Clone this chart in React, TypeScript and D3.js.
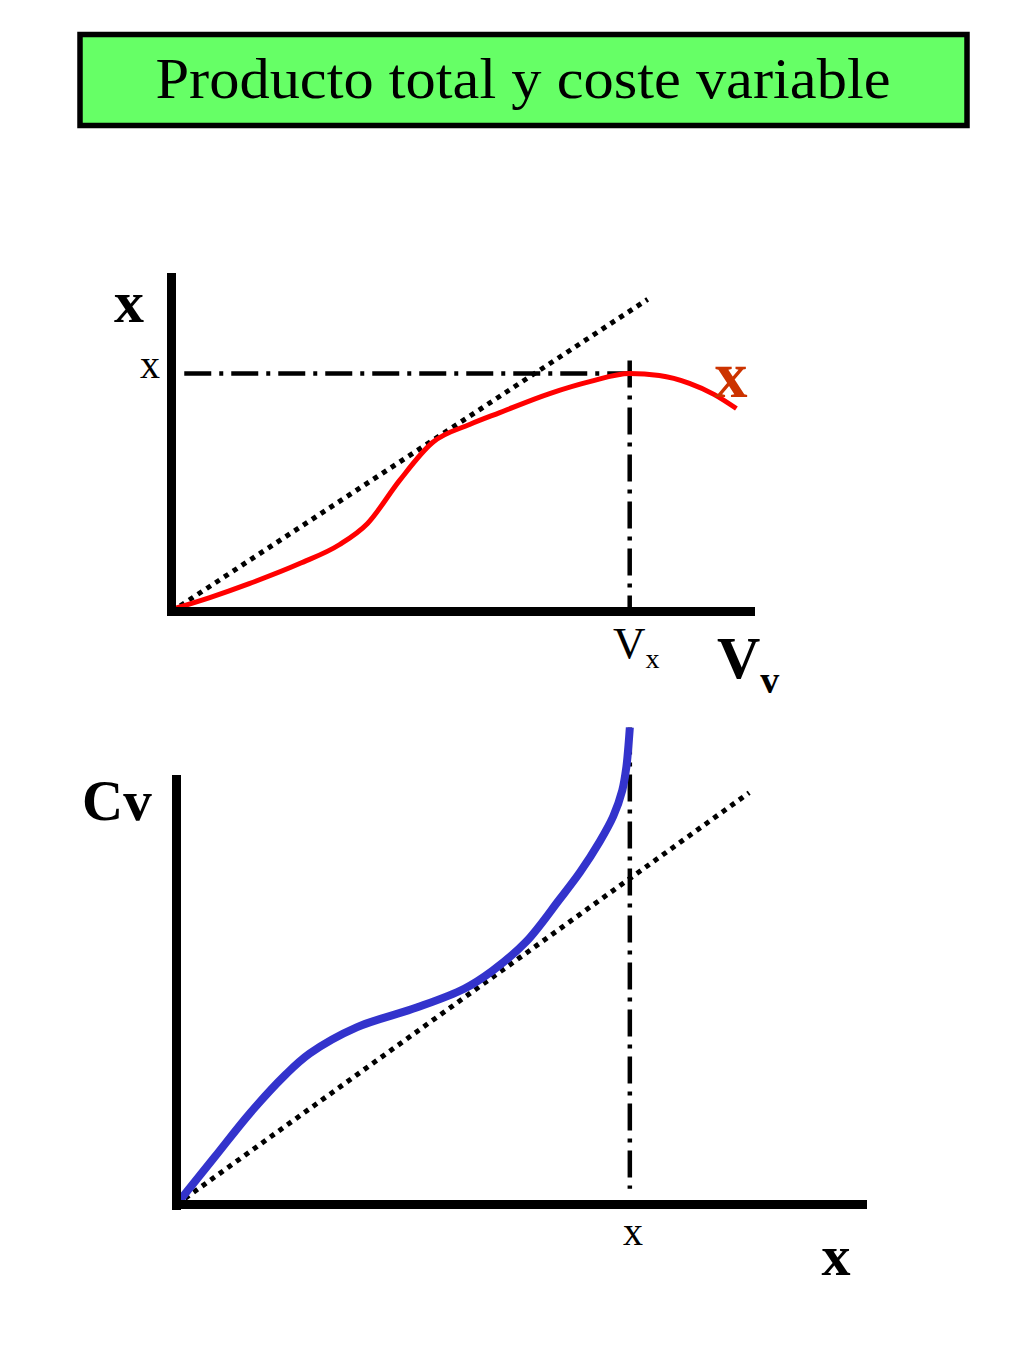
import * as d3 from "d3";

// top chart: total product against variable input (units 0..100 on both axes)
const productCurve: [number, number][] = [
  [0, 0.6], [6.6, 4.1], [13.4, 8.2], [22.1, 14.1], [29.0, 19.7], [33.8, 25.9],
  [39.3, 38.5], [45.0, 49.7], [51.4, 55.0], [56.6, 58.5], [65.2, 64.1],
  [72.1, 67.6], [79.0, 70.0], [84.1, 69.4], [89.3, 67.1], [93.6, 63.8], [97.4, 59.7],
];
const productRay: [number, number][] = [[0, 0], [82.1, 91.8]];
const productMax = { v: 79.0, x: 70.0, top: 73.8, left: 2.2 };

// bottom chart: variable cost against output
const costCurve: [number, number][] = [
  [0, 0], [5.5, 11.0], [10.6, 21.2], [15.7, 30.1], [19.3, 35.2], [26.1, 41.3],
  [34.8, 45.9], [41.7, 50.3], [45.8, 54.5], [50.7, 61.3], [55.5, 71.1],
  [58.5, 77.5], [61.3, 84.5], [63.3, 90.5], [64.6, 96.5], [65.2, 102.0],
  [65.5, 107.0], [65.7, 111.2],
];
const costRay: [number, number][] = [[0, 0], [83.0, 96.0]];
const costMax = { x: 65.7, top: 111.2, bottom: 3.7 };

const TITLE = "Producto total y coste variable";
const SERIF = "'Liberation Serif', Tinos, 'Times New Roman', Times, serif";

const DOTTED = "5,5.5";
const DASHDOT = "27,8,4,8";

export default function App() {
  const W = 1024;
  const H = 1365;

  // top panel scales
  const x1 = d3.scaleLinear().domain([0, 100]).range([171.5, 751.5]);
  const y1 = d3.scaleLinear().domain([0, 100]).range([611.5, 271.5]);
  // bottom panel scales
  const x2 = d3.scaleLinear().domain([0, 100]).range([176.5, 866.5]);
  const y2 = d3.scaleLinear().domain([0, 100]).range([1204.5, 775.5]);

  const line1 = d3.line<[number, number]>()
    .x((d) => x1(d[0])).y((d) => y1(d[1]))
    .curve(d3.curveMonotoneX);
  const line2 = d3.line<[number, number]>()
    .x((d) => x2(d[0])).y((d) => y2(d[1]))
    .curve(d3.curveCatmullRom.alpha(0.5));
  const straight1 = d3.line<[number, number]>().x((d) => x1(d[0])).y((d) => y1(d[1]));
  const straight2 = d3.line<[number, number]>().x((d) => x2(d[0])).y((d) => y2(d[1]));

  const font = { fontFamily: SERIF };

  return (
    <svg
      width={W}
      height={H}
      viewBox={`0 0 ${W} ${H}`}
      style={{ position: "absolute", left: 0, top: 0, background: "#fff", fontFamily: SERIF }}
    >
      {/* title box */}
      <rect x={80} y={34.5} width={887} height={91} fill="#66FF66" stroke="#000" strokeWidth={5.5} />
      <text
        x={523}
        y={98}
        textAnchor="middle"
        fontSize={58}
        textLength={735}
        lengthAdjust="spacingAndGlyphs"
        style={font}
      >
        {TITLE}
      </text>

      {/* ---- top panel ---- */}
      <path d={straight1(productRay) ?? ""} fill="none" stroke="#000" strokeWidth={5} strokeDasharray={DOTTED} />
      <line
        x1={x1(productMax.left)} x2={x1(productMax.v)}
        y1={y1(productMax.x)} y2={y1(productMax.x)}
        stroke="#000" strokeWidth={4.5} strokeDasharray={DASHDOT}
      />
      <line
        x1={x1(productMax.v)} x2={x1(productMax.v)}
        y1={y1(productMax.top)} y2={y1(0)}
        stroke="#000" strokeWidth={4.5} strokeDasharray={DASHDOT}
      />
      <path d={line1(productCurve) ?? ""} fill="none" stroke="#FF0000" strokeWidth={5} strokeLinejoin="round" />
      <line x1={x1(0)} x2={x1(0)} y1={273} y2={616} stroke="#000" strokeWidth={9} />
      <line x1={167} x2={755} y1={y1(0)} y2={y1(0)} stroke="#000" strokeWidth={9} />

      <text x={129} y={322} textAnchor="middle" fontSize={60} fontWeight="bold" style={font}>x</text>
      <text x={150} y={378} textAnchor="middle" fontSize={40} style={font}>x</text>
      <text x={731} y={397} textAnchor="middle" fontSize={66} fontWeight="bold" fill="#CC3300" style={font}>x</text>
      <text x={613} y={658} fontSize={45} style={font}>
        V<tspan fontSize={28} dy={10}>x</tspan>
      </text>
      <text x={717} y={678} fontSize={60} fontWeight="bold" style={font}>
        V<tspan fontSize={38} dy={15}>v</tspan>
      </text>

      {/* ---- bottom panel ---- */}
      <path d={straight2(costRay) ?? ""} fill="none" stroke="#000" strokeWidth={5} strokeDasharray={DOTTED} />
      <line
        x1={x2(costMax.x)} x2={x2(costMax.x)}
        y1={y2(costMax.top)} y2={y2(costMax.bottom)}
        stroke="#000" strokeWidth={4.5} strokeDasharray={DASHDOT}
      />
      <path d={line2(costCurve) ?? ""} fill="none" stroke="#3333CC" strokeWidth={8} strokeLinejoin="round" />
      <line x1={x2(0)} x2={x2(0)} y1={775} y2={1210} stroke="#000" strokeWidth={9} />
      <line x1={172} x2={867} y1={y2(0)} y2={y2(0)} stroke="#000" strokeWidth={9} />

      <text x={82} y={820} fontSize={57} fontWeight="bold" style={font}>Cv</text>
      <text x={633} y={1245} textAnchor="middle" fontSize={40} style={font}>x</text>
      <text x={836} y={1275} textAnchor="middle" fontSize={58} fontWeight="bold" style={font}>x</text>
    </svg>
  );
}
